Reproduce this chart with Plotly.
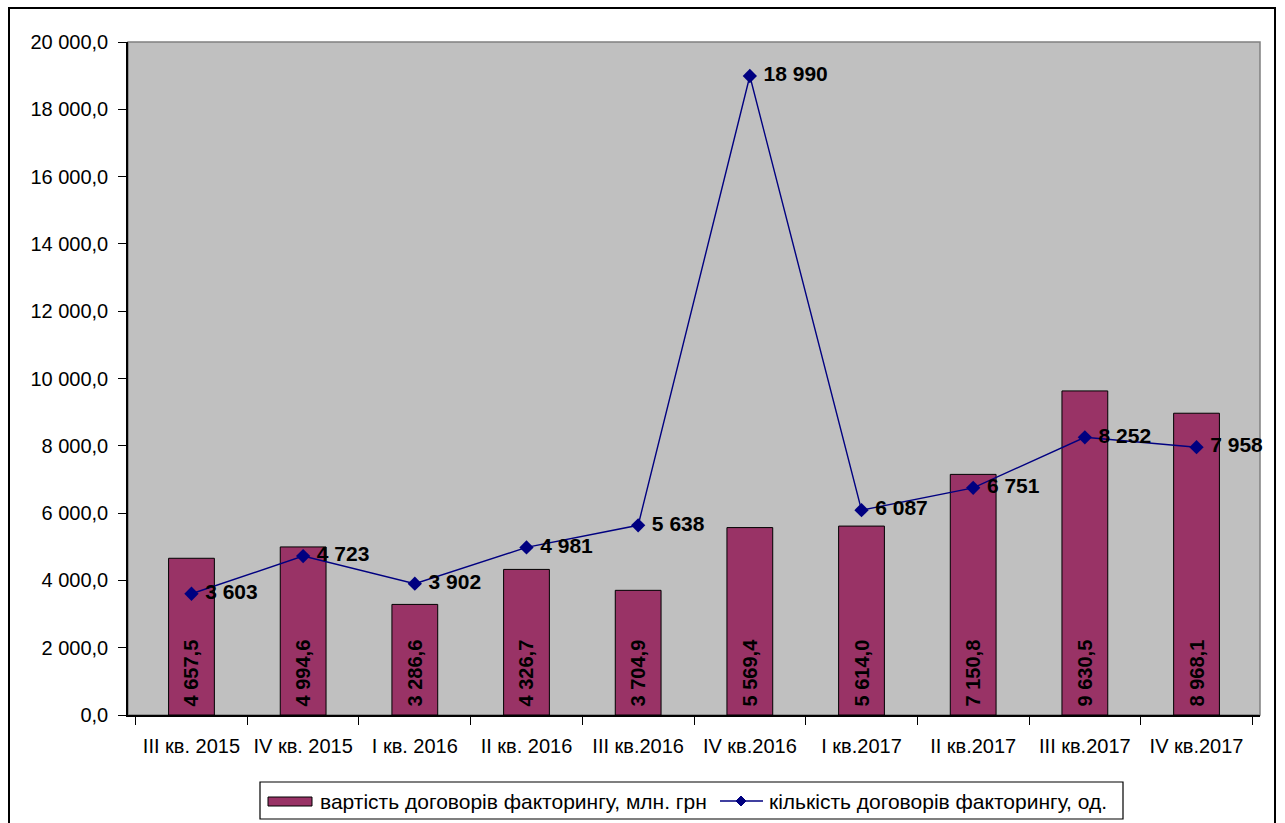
import plotly.graph_objects as go

categories = ["III кв. 2015", "IV кв. 2015", "I кв. 2016", "II кв. 2016", "III кв.2016",
              "IV кв.2016", "I кв.2017", "II кв.2017", "III кв.2017", "IV кв.2017"]
values_cost = [4657.5, 4994.6, 3286.6, 4326.7, 3704.9, 5569.4, 5614.0, 7150.8, 9630.5, 8968.1]
values_count = [3603, 4723, 3902, 4981, 5638, 18990, 6087, 6751, 8252, 7958]
name_cost = "вартість договорів факторингу, млн. грн"
name_count = "кількість договорів факторингу, од."
y_ticks = [0, 2000, 4000, 6000, 8000, 10000, 12000, 14000, 16000, 18000, 20000]

FONT = "Arial, 'Liberation Sans', sans-serif"
BAR_COLOR = "#993366"
LINE_COLOR = "#000080"

fig = go.Figure()
fig.add_trace(go.Bar(
    x=categories, y=values_cost, name=name_cost,
    marker=dict(color=BAR_COLOR, line=dict(color="black", width=1)),
    width=0.41,
    texttemplate=" %{y:,.1f}", textposition="inside", insidetextanchor="start",
    textangle=-90, constraintext="none",
    textfont=dict(family=FONT, size=20, color="black", weight="bold"),
))
fig.add_trace(go.Scatter(
    x=categories, y=values_count, name=name_count, mode="lines+markers+text",
    line=dict(color=LINE_COLOR, width=1.4),
    marker=dict(symbol="diamond", size=11, color=LINE_COLOR),
    texttemplate=" %{y:,.0f}", textposition="middle right", cliponaxis=False,
    textfont=dict(family=FONT, size=21, color="black", weight="bold"),
))

L, R, T, B = 128, 25, 42, 108
W, H = 1285, 823
pw, ph = W - L - R, H - T - B


def px(x):
    return (x - L) / pw


def py(y):
    return (H - B - y) / ph


# custom legend (pixel layout converted to paper coords)
dx, dy = 5 / pw, 5 / ph
lx, ly = px(741), py(801)
shapes = [
    dict(type="rect", xref="paper", yref="paper", x0=0, x1=1, y0=0, y1=1,
         line=dict(color="#808080", width=1.5), layer="below"),
    dict(type="rect", xref="paper", yref="paper",
         x0=px(9), x1=px(1275), y0=py(835), y1=py(8),
         line=dict(color="black", width=2), fillcolor="rgba(0,0,0,0)"),
    dict(type="rect", xref="paper", yref="paper",
         x0=px(260), x1=px(1123), y0=py(819), y1=py(782),
         line=dict(color="black", width=1.2), fillcolor="white"),
    dict(type="rect", xref="paper", yref="paper",
         x0=px(268), x1=px(312), y0=py(806), y1=py(797),
         line=dict(color="black", width=1), fillcolor=BAR_COLOR),
    dict(type="line", xref="paper", yref="paper",
         x0=px(720), x1=px(763), y0=ly, y1=ly,
         line=dict(color=LINE_COLOR, width=1.5)),
    dict(type="path", xref="paper", yref="paper",
         path=f"M {lx - dx} {ly} L {lx} {ly + dy} L {lx + dx} {ly} L {lx} {ly - dy} Z",
         line=dict(color=LINE_COLOR, width=1), fillcolor=LINE_COLOR),
]
annotations = [
    dict(xref="paper", yref="paper", x=px(318), y=py(801), xanchor="left", yanchor="middle",
         text=name_cost, showarrow=False, font=dict(family=FONT, size=21, color="black")),
    dict(xref="paper", yref="paper", x=px(767), y=py(801), xanchor="left", yanchor="middle",
         text=name_count, showarrow=False, font=dict(family=FONT, size=21, color="black")),
]

fig.update_layout(
    width=W, height=H,
    margin=dict(l=L, r=R, t=T, b=B, pad=0),
    paper_bgcolor="white", plot_bgcolor="#C0C0C0",
    separators=", ",
    font=dict(family=FONT, size=20, color="black"),
    showlegend=False,
    xaxis=dict(showgrid=False, showline=True, linecolor="black", linewidth=1.5,
               ticks="outside", tickson="boundaries", ticklen=8, tickcolor="black",
               ticklabelstandoff=12, tickfont=dict(size=20), fixedrange=True),
    yaxis=dict(range=[0, 20000], tickvals=y_ticks, tickformat=",.1f",
               showgrid=False, showline=True, linecolor="black", linewidth=1.5,
               ticks="outside", ticklen=8, tickcolor="black", zeroline=False,
               ticklabelstandoff=6, tickfont=dict(size=20), fixedrange=True),
    shapes=shapes,
    annotations=annotations,
)
fig.write_html("out.html", config={"displayModeBar": False},
               post_script="document.body.style.margin='0';document.body.style.overflow='hidden';")
